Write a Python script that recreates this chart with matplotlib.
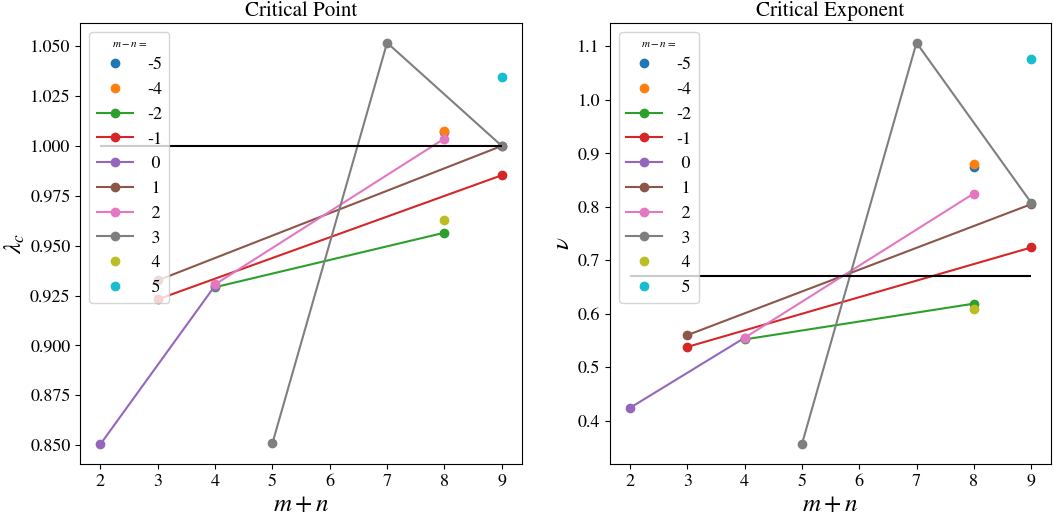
import matplotlib
matplotlib.use("Agg")
from matplotlib import pyplot as plt

plt.rcParams["font.family"] = ["STIXGeneral", "DejaVu Serif"]
plt.rcParams["mathtext.fontset"] = "stix"
plt.rcParams["font.size"] = 13

# m - n groups, in legend order
groups = [-5, -4, -2, -1, 0, 1, 2, 3, 4, 5]

# m + n values for each group
mpn = {
    -5: [8],
    -4: [8],
    -2: [4, 8],
    -1: [3, 9],
    0: [2, 4],
    1: [3, 9],
    2: [4, 8],
    3: [5, 7, 9],
    4: [8],
    5: [9],
}

# critical point lambda_c
lam_c = {
    -5: [1.0068],
    -4: [1.0074],
    -2: [0.9292, 0.9565],
    -1: [0.9231, 0.9853],
    0: [0.8505, 0.9300],
    1: [0.9326, 1.0000],
    2: [0.9306, 1.0037],
    3: [0.8510, 1.0517, 1.0000],
    4: [0.9631],
    5: [1.0346],
}

# critical exponent nu
nu = {
    -5: [0.875],
    -4: [0.881],
    -2: [0.552, 0.619],
    -1: [0.538, 0.724],
    0: [0.424, 0.555],
    1: [0.560, 0.805],
    2: [0.555, 0.825],
    3: [0.356, 1.107, 0.808],
    4: [0.609],
    5: [1.077],
}

ref_lam = 1.0
ref_nu = 0.671

fig = plt.figure(figsize=(10.57, 5.19), dpi=100)
ax1 = fig.add_axes([0.076, 0.1054, 0.4177, 0.8509])
ax2 = fig.add_axes([0.577, 0.1054, 0.4175, 0.8509])

for ax, vals, ref, title, ylab in [
    (ax1, lam_c, ref_lam, "Critical Point", r"$\lambda_c$"),
    (ax2, nu, ref_nu, "Critical Exponent", r"$\nu$"),
]:
    for i, g in enumerate(groups):
        xs = mpn[g]
        ys = vals[g]
        ls = "-" if len(xs) > 1 else "none"
        ax.plot(xs, ys, marker="o", linestyle=ls, color=f"C{i}", label=f"{g:2d}")
    ax.hlines(ref, 2, 9, colors="k")
    ax.set_title(title, fontsize=15, pad=5)
    ax.set_xlabel(r"$m+n$", fontsize=18, labelpad=2)
    ax.set_ylabel(ylab, fontsize=18, labelpad=2)
    ax.legend(loc="upper left", title=r"$m-n=$", title_fontsize=8,
              fontsize=13, labelspacing=0.45)

ax1.yaxis.set_major_formatter(matplotlib.ticker.FormatStrFormatter("%.3f"))

fig.savefig("out.png", dpi=100)
